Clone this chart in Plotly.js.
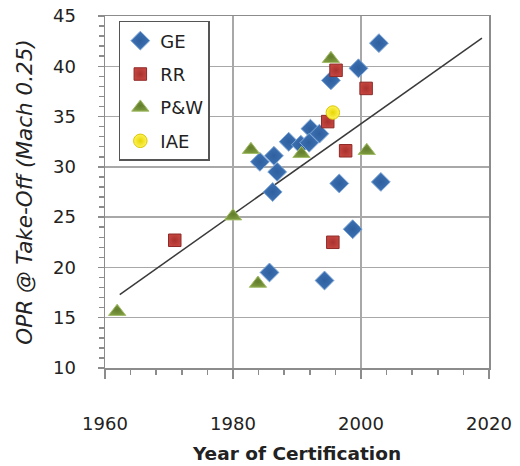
<!DOCTYPE html>
<html>
<head>
<meta charset="utf-8">
<script src="https://cdn.plot.ly/plotly-3.0.1.min.js"></script>
<style>html,body{margin:0;padding:0;background:#fff;}#chart{width:520px;height:466px;}</style>
</head>
<body>
<div id="chart"></div>
<script>
const geYear = [2002.8, 1999.6, 1995.3, 1992.1, 1993.5, 1988.7, 1990.6, 1991.9, 1984.2, 1986.4, 1986.9, 1996.6, 2003.1, 1986.2, 1998.7, 1985.7, 1994.3];
const geOPR  = [42.3, 39.8, 38.6, 33.8, 33.3, 32.5, 32.2, 32.4, 30.5, 31.1, 29.5, 28.35, 28.5, 27.5, 23.8, 19.5, 18.7];
const rrYear = [1996.1, 2000.8, 1994.8, 1997.6, 1970.9, 1995.6];
const rrOPR  = [39.6, 37.8, 34.5, 31.6, 22.7, 22.5];
const pwYear = [1995.3, 1982.8, 1990.7, 2000.9, 1980.0, 1983.9, 1961.9];
const pwOPR  = [40.75, 31.7, 31.3, 31.6, 25.1, 18.4, 15.6];
const iaeYear = [1995.6];
const iaeOPR  = [35.4];
const trendYear = [1962.3, 2018.9];
const trendOPR  = [17.3, 42.8];
const xTicks = [1960, 1980, 2000, 2020];
const yTicks = [10, 15, 20, 25, 30, 35, 40, 45];

const FONT = 'DejaVu Sans, sans-serif';

const traces = [
  {x: trendYear, y: trendOPR, mode: 'lines', showlegend: false, hoverinfo: 'skip',
   line: {color: '#3a3a3a', width: 1.5}},
  {x: geYear, y: geOPR, mode: 'markers', name: 'GE', legendgroup: 'a',
   marker: {symbol: 'diamond', size: 14.5, color: '#3d72b4', line: {color: '#7fa6d6', width: 1},
            gradient: {type: 'radial', color: '#2f5f9e'}}},
  {x: rrYear, y: rrOPR, mode: 'markers', name: 'RR', legendgroup: 'b',
   marker: {symbol: 'square', size: 12.5, color: '#c4443f', line: {color: '#8e2a27', width: 1},
            gradient: {type: 'radial', color: '#a8322e'}}},
  {x: pwYear, y: pwOPR, mode: 'markers', name: 'P&W', legendgroup: 'c',
   marker: {symbol: 'triangle-up', size: 15, color: '#7d9a3f', line: {color: '#a3bd6a', width: 1},
            gradient: {type: 'radial', color: '#627d2c'}}},
  {x: iaeYear, y: iaeOPR, mode: 'markers', name: 'IAE', legendgroup: 'd',
   marker: {symbol: 'circle', size: 13.5, color: '#fff35a', line: {color: '#d8c800', width: 1},
            gradient: {type: 'radial', color: '#e6d600'}}}
];

const layout = {
  width: 520, height: 466,
  margin: {l: 105, r: 31, t: 16, b: 98},
  paper_bgcolor: '#ffffff', plot_bgcolor: '#ffffff',
  font: {family: FONT, color: '#222222'},
  showlegend: true,
  legend: {
    x: 0.036, y: 0.986, xanchor: 'left', yanchor: 'top',
    bgcolor: '#ffffff', bordercolor: '#555555', borderwidth: 1.5,
    font: {family: FONT, size: 18, color: '#222222'},
    traceorder: 'grouped', tracegroupgap: 7
  },
  xaxis: {
    range: [1960, 2020], tickvals: xTicks, ticktext: xTicks.map(String),
    showgrid: true, gridcolor: '#a8a8a8', gridwidth: 1.5,
    showline: true, linecolor: '#8c8c8c', linewidth: 1.5, mirror: true,
    ticks: 'outside', ticklen: 9, tickcolor: '#8c8c8c', tickwidth: 1.5,
    minor: {dtick: 4, ticks: 'outside', ticklen: 5, tickcolor: '#8c8c8c', showgrid: false},
    ticklabelstandoff: 30,
    tickfont: {family: FONT, size: 18, color: '#222222'},
    zeroline: false,
    title: {text: '<b>Year of Certification</b>', font: {family: FONT, size: 18.5, color: '#222222'}, standoff: 14}
  },
  yaxis: {
    range: [10, 45], tickvals: yTicks, ticktext: yTicks.map(String),
    showgrid: true, gridcolor: '#a8a8a8', gridwidth: 1.5,
    showline: true, linecolor: '#8c8c8c', linewidth: 1.5, mirror: true,
    ticks: 'outside', ticklen: 6, tickcolor: '#8c8c8c', tickwidth: 1.5,
    minor: {dtick: 1, ticks: 'outside', ticklen: 5, tickcolor: '#8c8c8c', showgrid: false},
    ticklabelstandoff: 18,
    tickfont: {family: FONT, size: 18, color: '#222222'},
    zeroline: false,
    title: {text: '<i>OPR @ Take-Off (Mach 0.25)</i>', font: {family: FONT, size: 21.5, color: '#222222'}, standoff: 14}
  }
};

Plotly.newPlot('chart', traces, layout, {displayModeBar: false, staticPlot: true});
</script>
</body>
</html>
